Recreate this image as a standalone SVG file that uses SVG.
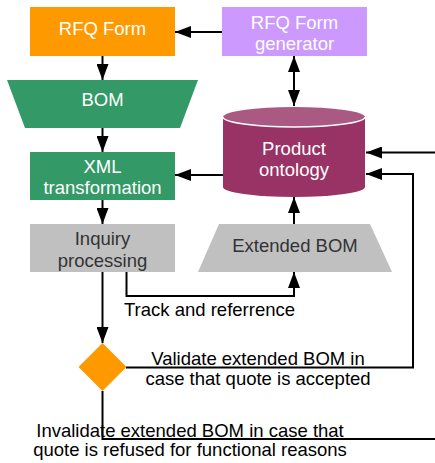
<svg xmlns="http://www.w3.org/2000/svg" width="435" height="463" viewBox="0 0 435 463">
  <defs>
    <marker id="arrow" viewBox="0 0 16 12" refX="16" refY="6" markerWidth="16" markerHeight="12" markerUnits="userSpaceOnUse" orient="auto-start-reverse">
      <path d="M0,0 L16,6 L0,12 Z" fill="#000"/>
    </marker>
    <style>
      text { font-family: "Liberation Sans", Arial, sans-serif; font-size: 18.5px; }
      .light { fill: #FFFFFF; text-anchor: middle; }
      .dark { fill: #333333; text-anchor: middle; }
      .label { fill: #000000; }
      .conn { fill: none; stroke: #000; stroke-width: 2; }
      .arr { marker-end: url(#arrow); }
    </style>
  </defs>
  <rect width="435" height="463" fill="#FFFFFF"/>

  <g id="connectors">
    <!-- generator to RFQ form -->
    <path class="conn arr" d="M222,32 H175"/>
    <!-- generator <-> ontology -->
    <path class="conn arr" d="M294,56 V106" marker-start="url(#arrow)"/>
    <!-- main vertical flow -->
    <path class="conn arr" d="M102.5,56 V80"/>
    <path class="conn arr" d="M102.5,128 V152"/>
    <path class="conn arr" d="M102.5,200 V224"/>
    <path class="conn arr" d="M102.5,272 V343"/>
    <!-- ontology to XML transformation -->
    <path class="conn arr" d="M223,175 H175"/>
    <!-- extended BOM to ontology -->
    <path class="conn arr" d="M294,224 V197"/>
    <!-- track and reference -->
    <path class="conn arr" d="M126.5,272 V296 H294 V272"/>
    <!-- external input -->
    <path class="conn arr" d="M435,152.5 H366"/>
    <!-- validate -->
    <path class="conn arr" d="M126,367.5 H413 V174 H366"/>
    <!-- invalidate -->
    <path class="conn" d="M102.5,391 V439 H435"/>
  </g>

  <g id="rfq-form">
    <rect x="30" y="7" width="145" height="49" fill="#FF9900"/>
    <text class="light" x="102.5" y="35">RFQ Form</text>
  </g>

  <g id="rfq-form-generator">
    <rect x="222" y="7" width="145" height="49" fill="#CC99FF"/>
    <text class="light" x="294.5" y="29">RFQ Form</text>
    <text class="light" x="294.5" y="50">generator</text>
  </g>

  <g id="bom">
    <polygon points="7,80 198,80 180,128 25,128" fill="#339966"/>
    <text class="light" x="102.5" y="106">BOM</text>
  </g>

  <g id="xml-transformation">
    <rect x="30" y="152" width="145" height="48" fill="#339966"/>
    <text class="light" x="102.5" y="173">XML</text>
    <text class="light" x="102.5" y="194">transformation</text>
  </g>

  <g id="product-ontology">
    <path d="M223,117 V187 A71,10 0 0 0 365,187 V117 Z" fill="#993366"/>
    <ellipse cx="294" cy="117" rx="71" ry="10" fill="#AA5A82"/>
    <path d="M223,117 A71,10 0 0 0 365,117" fill="none" stroke="#FFFFFF" stroke-width="1.5"/>
    <text class="light" x="294" y="155">Product</text>
    <text class="light" x="294" y="176">ontology</text>
  </g>

  <g id="inquiry-processing">
    <rect x="30" y="224" width="145" height="48" fill="#C0C0C0"/>
    <text class="dark" x="102.5" y="245">Inquiry</text>
    <text class="dark" x="102.5" y="267">processing</text>
  </g>

  <g id="extended-bom">
    <polygon points="219,224 370,224 392,272 198,272" fill="#C0C0C0"/>
    <text class="dark" x="295" y="252">Extended BOM</text>
  </g>

  <g id="decision">
    <polygon points="102.5,343 126.5,367 102.5,391 78.5,367" fill="#FF9900"/>
  </g>

  <g id="labels">
    <text class="label" x="124" y="316">Track and referrence</text>
    <text class="label" x="258" y="365" text-anchor="middle">Validate extended BOM in</text>
    <text class="label" x="258" y="385" text-anchor="middle">case that quote is accepted</text>
    <text class="label" x="190" y="437" text-anchor="middle">Invalidate extended BOM in case that</text>
    <text class="label" x="190" y="456" text-anchor="middle">quote is refused for functional reasons</text>
  </g>
</svg>
